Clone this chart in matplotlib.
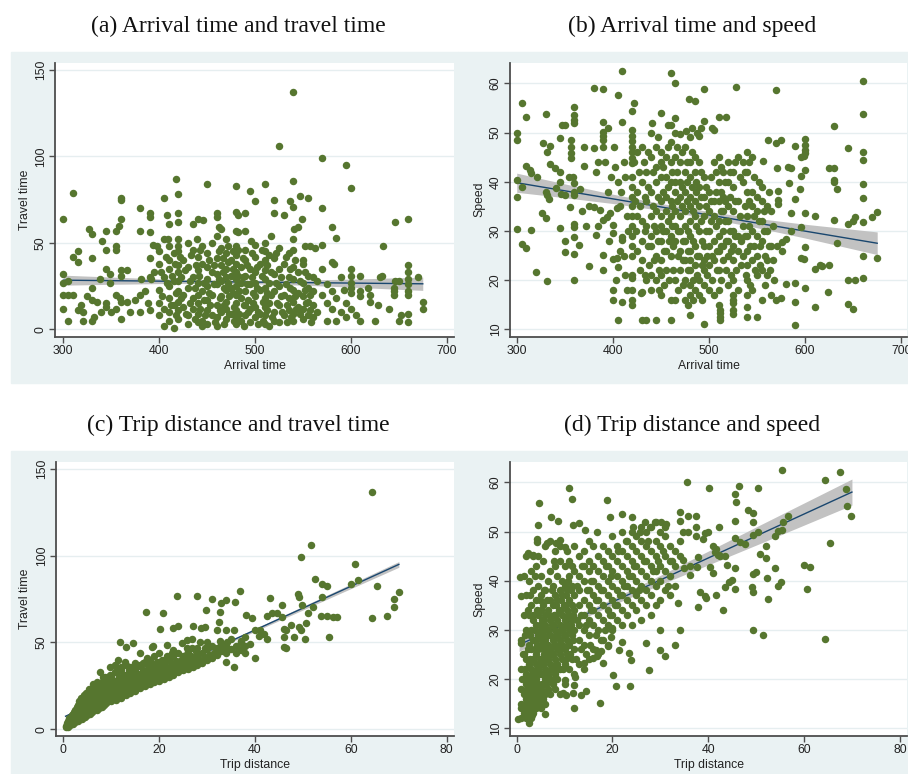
import matplotlib.pyplot as plt
import numpy as np
from matplotlib.patches import Rectangle

plt.rcParams['font.family'] = ['Liberation Sans', 'DejaVu Sans']

GREEN = "#56762f"
NAVY = "#1a476f"
BAND = "#c2c2c2"
BG = "#eaf2f3"
GRID = "#e6eef0"
AXC = "#4d4d4d"

# (a) arrival time vs travel time
pts_a = [
    (300, 64), (300, 32), (300, 27), (300, 20), (300, 12), (305, 28), (305, 20), (305, 5),
    (310, 79), (310, 42), (310, 20), (315, 45), (315, 39), (315, 11), (318, 14), (320, 5),
    (320, 10), (325, 19), (327, 58), (330, 55), (330, 41), (330, 24), (330, 17), (330, 5),
    (332, 7), (335, 16), (338, 29), (339, 10), (340, 51), (344, 35), (344, 15), (344, 13),
    (345, 57), (345, 46), (349, 32), (349, 27), (350, 10), (355, 57), (355, 48), (355, 46),
    (355, 20), (355, 12), (358, 60), (359, 18), (360, 76), (360, 75), (360, 64), (360, 34),
    (360, 31), (360, 16), (360, 6), (366, 34), (366, 16), (370, 10), (375, 17), (380, 70),
    (380, 57), (380, 20), (380, 10), (385, 22), (388, 15), (390, 67), (390, 65), (390, 56),
    (390, 41), (390, 30), (390, 11), (394, 49), (395, 33), (398, 48), (381, 29), (391, 29),
    (405, 76), (408, 66), (405, 52), (409, 52), (418, 87), (420, 78), (420, 67), (420, 62),
    (410, 61), (435, 61), (440, 64), (446, 63), (439, 52), (450, 84), (460, 67), (460, 65),
    (464, 58), (462, 59), (480, 83), (480, 68), (482, 66), (480, 57), (482, 56), (490, 67),
    (490, 57), (495, 80), (500, 74), (496, 51), (510, 84), (520, 75), (520, 67), (530, 66),
    (517, 54), (525, 106), (540, 137), (540, 86), (536, 74), (540, 71), (547, 77), (555, 76),
    (541, 58), (545, 59), (549, 64), (552, 48), (557, 48), (550, 40),
    (400, 45), (400, 38), (400, 23), (400, 15), (400, 8), (405, 30), (405, 12), (405, 2),
    (410, 48), (410, 40), (410, 35), (410, 25), (410, 18), (410, 10), (410, 5),
    (415, 44), (415, 28), (415, 14), (415, 1),
    (420, 52), (420, 48), (420, 45), (420, 37), (420, 33), (420, 28), (420, 22), (420, 16),
    (420, 11), (420, 6), (425, 40), (425, 20), (425, 13),
    (430, 50), (430, 36), (430, 24), (430, 8), (430, 3), (435, 46), (435, 30), (435, 18), (435, 12),
    (440, 42), (440, 34), (440, 27), (440, 20), (440, 15), (440, 9), (440, 4),
    (445, 48), (445, 38), (445, 22), (445, 5), (445, 2),
    (450, 44), (450, 36), (450, 29), (450, 25), (450, 17), (450, 11), (450, 3),
    (455, 50), (455, 33), (455, 20), (455, 8),
    (460, 54), (460, 41), (460, 32), (460, 26), (460, 14), (460, 7), (460, 2),
    (465, 47), (465, 37), (465, 28), (465, 19), (465, 10),
    (470, 52), (470, 44), (470, 35), (470, 30), (470, 23), (470, 16), (470, 12), (470, 6),
    (475, 40), (475, 31), (475, 24), (475, 9),
    (480, 48), (480, 43), (480, 38), (480, 33), (480, 29), (480, 25), (480, 20), (480, 15),
    (480, 11), (480, 7), (480, 3), (485, 36), (485, 27), (485, 18), (485, 5),
    (490, 46), (490, 40), (490, 31), (490, 22), (490, 14), (490, 8),
    (495, 35), (495, 26), (495, 12), (495, 4),
    (500, 49), (500, 42), (500, 33), (500, 27), (500, 19), (500, 13), (500, 7),
    (505, 38), (505, 23), (505, 9),
    (510, 50), (510, 45), (510, 40), (510, 34), (510, 29), (510, 24), (510, 18), (510, 13),
    (510, 8), (510, 3), (515, 43), (515, 27), (515, 15), (515, 2),
    (520, 41), (520, 32), (520, 22), (520, 10), (520, 5),
    (525, 47), (525, 35), (525, 25), (525, 14), (525, 4), (530, 38), (530, 20), (530, 8),
    (535, 44), (535, 30), (535, 18), (535, 11),
    (540, 52), (540, 46), (540, 36), (540, 29), (540, 23), (540, 16), (540, 9), (540, 5),
    (545, 33), (545, 21), (545, 13), (550, 38), (550, 27), (550, 19), (550, 12), (550, 6),
    (555, 31), (555, 24), (555, 16), (555, 8), (560, 30), (560, 22), (560, 14), (560, 7),
    (563, 47), (570, 99), (570, 70), (570, 49), (580, 59), (585, 53), (580, 39), (582, 38),
    (595, 95), (600, 82), (600, 35), (600, 31), (600, 27), (610, 31), (630, 30), (632, 31),
    (633, 48), (646, 62), (660, 64), (660, 37), (660, 33), (660, 29), (660, 26), (670, 30),
    (650, 28), (646, 28), (645, 24), (645, 22), (660, 22), (645, 20), (660, 20), (650, 5),
    (652, 8), (660, 9), (660, 4), (675, 16), (675, 12), (610, 22), (618, 24), (620, 20),
    (610, 19), (600, 21), (600, 24), (593, 23), (570, 20), (575, 15), (580, 12), (585, 5),
    (590, 10), (595, 15), (600, 12), (605, 8), (610, 5), (620, 16), (625, 5), (628, 14),
    (640, 12), (570, 35), (575, 26), (565, 28), (585, 18), (590, 30), (575, 5), (565, 10),
    (580, 22), (595, 7),
]
# the dense middle of panel (a)
pts_a_dense = [
    (402, 33), (403, 19), (407, 42), (408, 27), (412, 14), (413, 31), (417, 38), (418, 21),
    (418, 8), (422, 42), (423, 30), (423, 18), (427, 34), (428, 9), (432, 28), (432, 15),
    (433, 43), (437, 24), (437, 6), (438, 37), (442, 31), (443, 12), (443, 46), (447, 27),
    (447, 17), (448, 8), (452, 40), (452, 21), (453, 14), (457, 37), (457, 26), (458, 4),
    (462, 45), (462, 29), (463, 18), (463, 11), (467, 41), (467, 33), (468, 24), (468, 14),
    (468, 3), (472, 48), (472, 39), (472, 27), (473, 19), (473, 9), (477, 45), (477, 35),
    (477, 21), (478, 13), (478, 5), (482, 46), (482, 31), (483, 22), (483, 9), (487, 41),
    (487, 30), (488, 14), (488, 2), (492, 37), (492, 26), (493, 17), (493, 10), (497, 44),
    (497, 30), (498, 21), (498, 15), (502, 36), (502, 24), (503, 10), (503, 3), (507, 46),
    (507, 31), (508, 16), (508, 5), (512, 37), (512, 21), (513, 11), (517, 33), (517, 20),
    (518, 7), (522, 44), (522, 27), (523, 15), (527, 30), (527, 19), (528, 10), (532, 42),
    (532, 26), (533, 14), (533, 4), (537, 35), (537, 24), (538, 7), (542, 40), (542, 19),
    (543, 12), (547, 28), (547, 9), (552, 33), (552, 23), (553, 15), (557, 20), (557, 11),
    (558, 4),
]

# (b) arrival time vs speed
pts_b = [
    (410, 62.6), (460, 62.2), (465, 60.1), (660, 60.5), (380, 59), (390, 58.8), (495, 58.8),
    (528, 59.3), (570, 58.6), (405, 57.6), (479, 56.8), (485, 56.5), (305, 56), (422, 56),
    (360, 55.1), (420, 54.4), (330, 53.8), (310, 53.2), (360, 53.6), (360, 52.5), (360, 51.9),
    (450, 53.9), (465, 52.9), (510, 53.2), (518, 53.1), (660, 53.7), (410, 52.1), (390, 52.1),
    (347, 51.6), (350, 51.6), (441, 51.9), (457, 51.5), (460, 51.5), (495, 52.4), (630, 51.3),
    (300, 50), (300, 48.5), (395, 51), (390, 50.2), (390, 49.2), (390, 48.5), (390, 47.1),
    (420, 50.5), (420, 49.4), (420, 48.2), (420, 47), (420, 46), (420, 44.8), (420, 43.8),
    (470, 49.8), (476, 50.4), (482, 50.9), (488, 50), (490, 49.2), (492, 51), (503, 51),
    (505, 50.5), (345, 48.8), (327, 47.8), (331, 46.1), (335, 47.3), (370, 47.1), (380, 46.8),
    (401, 47.1), (356, 48.5), (356, 47.1), (356, 45.8), (356, 44.8), (561, 48.5), (570, 47.8),
    (575, 48.5), (590, 47.3), (600, 48.6), (600, 47.5), (600, 46.5), (600, 45.8), (645, 46.8),
    (660, 46.1), (660, 44.4), (556, 44.2), (596, 45), (599, 45.3), (596, 41.2), (600, 42.3),
    (630, 42.7), (625, 42.7), (630, 40.4), (630, 40), (633, 38.5), (660, 39.5), (660, 36.7),
    (571, 42.7), (582, 43), (585, 42.7), (572, 38.2), (572, 36.3), (572, 35.5), (583, 39.7),
    (595, 38.5), (590, 36.5), (310, 43.3), (314, 42.4), (315, 41.7), (321, 41), (300, 40.4),
    (305, 39), (300, 36.8), (330, 38), (332, 37.3), (334, 36.5), (335, 43.7), (340, 42.7),
    (345, 42), (345, 40), (341, 38.7), (346, 37.6), (350, 37.3), (354, 41), (359, 41),
    (360, 39.7), (360, 38), (360, 37.3), (366, 38.5), (370, 43.2), (326, 33.7), (330, 32.6),
    (345, 30.5), (300, 30.3), (315, 30.2), (305, 27.3), (310, 26.5), (355, 34.8), (350, 28),
    (350, 25.8), (360, 31.4), (360, 30.9), (360, 28.7), (360, 25.3), (365, 27.1), (320, 21.7),
    (332, 19.9), (360, 20), (375, 22.9), (390, 22.1), (382, 29.2), (390, 25.1), (380, 34.9),
    (387, 34.3), (390, 32.2), (394, 32.9), (397, 33.6), (400, 31.2), (400, 29.5), (404, 34.6),
    (407, 35), (410, 28.8), (410, 28.2), (400, 24.2), (404, 24.6), (405, 22.6), (400, 18),
    (400, 16), (410, 15.6), (405, 11.9), (415, 18), (420, 18), (420, 16), (420, 14.9),
    (420, 21), (420, 20.4), (430, 11.9), (435, 11.9), (445, 11.9), (429, 17.3), (430, 17.6),
    (460, 11.9), (495, 11), (590, 10.9), (540, 12.6), (550, 12.6), (511, 11.9), (511, 12.6),
    (511, 13.3), (511, 14), (525, 13.2), (525, 14), (525, 15.3), (525, 16), (525, 17),
    (540, 14.5), (610, 14.5), (645, 15.2), (650, 14.1), (590, 15.6), (570, 16), (575, 16.3),
    (580, 19.2), (590, 19.5), (600, 18.5), (610, 22.2), (615, 23), (618, 22.8), (625, 23.1),
    (624, 17.6), (645, 20), (652, 20), (660, 20.4), (660, 24.9), (675, 24.4), (633, 27.6),
    (630, 32.2), (645, 31.5), (650, 32), (652, 32.9), (660, 31.9), (670, 32.9), (675, 33.8),
    (596, 30.9), (600, 33.7), (600, 26.7), (610, 33), (585, 30), (571, 27), (576, 27.8),
    (580, 28.3), (576, 26), (596, 24.4), (599, 24.2), (585, 33.6), (420, 41), (420, 39),
    (420, 37), (420, 35), (420, 33), (420, 31), (420, 29), (420, 27), (420, 25),
    (425, 46), (425, 38), (425, 33), (425, 26), (430, 47), (430, 40), (430, 32), (430, 28),
    (430, 24), (435, 42), (435, 36), (435, 31), (435, 20),
    (440, 50), (440, 45), (440, 38), (440, 33), (440, 29), (440, 27), (440, 21), (440, 18),
    (445, 47), (445, 43), (445, 40), (445, 34), (445, 30), (445, 25), (445, 20),
    (450, 46), (450, 44), (450, 41), (450, 36), (450, 33), (450, 31), (450, 28), (450, 24),
    (450, 21), (450, 17), (455, 45), (455, 41), (455, 37), (455, 34), (455, 30), (455, 26),
    (455, 22), (460, 48), (460, 44), (460, 40), (460, 36), (460, 33), (460, 29), (460, 25),
    (460, 16), (465, 50), (465, 45), (465, 40), (465, 38), (465, 34), (465, 31), (465, 28),
    (465, 20), (465, 16), (470, 44), (470, 40), (470, 37), (470, 33), (470, 30), (470, 26),
    (470, 22), (475, 47), (475, 42), (475, 38), (475, 34), (475, 31), (475, 28), (475, 24),
    (475, 20), (475, 16), (480, 49), (480, 44), (480, 41), (480, 37), (480, 35), (480, 32),
    (480, 29), (480, 26), (480, 24), (480, 22), (480, 19), (480, 17), (480, 13),
    (485, 45), (485, 42), (485, 36), (485, 33), (485, 27), (485, 23), (485, 18),
    (490, 44), (490, 39), (490, 35), (490, 30), (490, 25), (490, 20), (490, 17),
    (495, 41), (495, 37), (495, 33), (495, 27), (495, 24), (495, 22), (495, 19),
    (500, 38), (500, 34), (500, 30), (500, 27), (500, 23), (500, 18),
    (505, 44), (505, 36), (505, 33), (505, 28), (505, 24), (505, 17),
    (510, 45), (510, 40), (510, 36), (510, 32), (510, 29), (510, 26), (510, 22), (510, 18),
    (510, 15), (515, 42), (515, 37), (515, 34), (515, 30), (515, 27), (515, 24),
    (520, 44), (520, 40), (520, 35), (520, 32), (520, 28), (520, 25), (520, 19),
    (525, 42), (525, 39), (525, 34), (525, 30), (525, 27), (525, 24), (525, 20),
    (530, 45), (530, 36), (530, 29), (530, 26), (530, 18), (535, 44), (535, 40), (535, 31),
    (535, 25), (540, 46), (540, 42), (540, 38), (540, 33), (540, 29), (540, 26), (540, 23),
    (540, 20), (540, 17), (545, 45), (545, 38), (545, 35), (545, 30), (545, 24), (545, 18),
    (550, 37), (550, 34), (550, 29), (550, 25), (550, 21), (555, 39), (555, 36), (555, 32),
    (555, 28), (555, 22), (555, 16), (560, 35), (560, 30), (560, 24), (560, 21),
    (565, 34), (565, 27), (565, 17),
]
# the dense middle of panel (b)
pts_b_dense = [
    (422, 44), (423, 36), (424, 30), (427, 42), (428, 35), (428, 22), (432, 44), (433, 37),
    (433, 30), (433, 21), (437, 46), (437, 39), (437, 27), (438, 23), (442, 42), (442, 35),
    (443, 31), (443, 24), (447, 49), (447, 37), (447, 28), (448, 22), (448, 18), (452, 43),
    (452, 38), (452, 30), (453, 26), (453, 19), (457, 47), (457, 39), (457, 32), (458, 28),
    (458, 20), (462, 42), (462, 35), (462, 31), (463, 27), (463, 22), (467, 47), (467, 42),
    (467, 36), (468, 30), (468, 25), (468, 18), (472, 46), (472, 39), (472, 35), (473, 28),
    (473, 24), (473, 19), (477, 44), (477, 40), (477, 36), (478, 30), (478, 26), (478, 22),
    (478, 15), (482, 46), (482, 39), (483, 34), (483, 28), (483, 20), (483, 16), (487, 40),
    (487, 38), (487, 31), (488, 25), (488, 21), (492, 42), (492, 37), (492, 32), (493, 28),
    (493, 23), (493, 16), (497, 39), (497, 35), (497, 30), (498, 25), (498, 21), (502, 41),
    (502, 36), (502, 32), (503, 25), (503, 20), (507, 42), (507, 38), (507, 31), (508, 26),
    (508, 22), (512, 43), (512, 38), (512, 34), (513, 27), (513, 20), (517, 40), (517, 36),
    (517, 32), (518, 28), (518, 22), (522, 42), (522, 37), (522, 30), (523, 26), (523, 21),
    (527, 44), (527, 36), (527, 29), (528, 22), (532, 41), (532, 33), (533, 28), (533, 23),
    (537, 42), (537, 35), (537, 29), (538, 21), (542, 44), (542, 36), (542, 31), (543, 27),
    (543, 19), (547, 41), (547, 33), (547, 27), (548, 22), (552, 40), (552, 32), (553, 27),
    (553, 23), (557, 34), (557, 30), (558, 25), (558, 19), (562, 38), (562, 27), (563, 22),
    (567, 31), (567, 24), (568, 20), (382, 42), (385, 44), (392, 44), (395, 38), (398, 41),
    (402, 43), (405, 40), (408, 38), (412, 44), (413, 41), (415, 33), (416, 30), (412, 25),
    (407, 26), (403, 20), (413, 21), (396, 28), (385, 31), (375, 35), (372, 31), (368, 34),
]

# (c) trip distance vs travel time
pts_c = [
    (64.5, 137), (51.7, 106), (49.5, 99.4), (60.9, 95.1), (61.4, 86), (52.5, 86.7),
    (54, 83.6), (55, 82.8), (60, 83.6), (65.4, 82.6), (70, 79), (69, 75), (68.9, 70.3),
    (67.6, 65.3), (64.5, 64), (55.4, 53.3), (53.7, 65.5), (55, 65), (56.2, 64.5), (57.2, 64.5),
    (54, 76), (49, 78), (49.2, 76), (49.9, 71.6), (52, 70.7), (51, 67.2), (50.6, 61),
    (50.4, 51.8), (48.1, 53.3), (49.2, 59), (49.5, 57), (45.7, 71.6), (43.1, 75.9),
    (43.6, 67), (44.6, 67), (42.5, 65.3), (45.7, 64.5), (46, 58), (46.4, 57), (46, 53),
    (46, 47.6), (46.4, 47), (47.6, 60), (40.1, 41.2), (40.8, 53.5), (41.8, 55), (42.5, 51.8),
    (40, 57.2), (41, 57.2), (38.2, 66), (39.3, 64), (36.8, 79.9), (35.9, 73.6), (33, 73),
    (34, 74.5), (31, 75.1), (28, 77), (23.8, 77), (29.8, 68.7), (32.6, 67.4), (20.9, 66.8),
    (17.2, 67.8), (20.2, 57.6), (23, 58.5), (24, 59.5), (27, 59.5), (28.7, 58.2), (29.6, 59),
    (32.4, 62), (32, 57.2), (34, 57.2), (35.6, 57.2), (35.6, 36), (34, 38.9), (37, 45.6),
    (38, 43.7), (37, 51), (38, 53), (11.9, 50.5), (14.5, 49.5), (13.2, 47.6), (18.5, 47.6),
    (18.8, 48), (21.6, 48.5), (23, 45.6), (24.8, 49.5), (25.8, 46.6), (26.8, 46.6),
    (25.8, 51.4), (26.8, 51.8), (28.6, 50), (30, 50.5), (32.8, 51), (34.2, 50), (11.5, 40),
    (12, 36), (16, 43.7), (17.4, 40.8), (9.8, 36), (10.8, 37), (7.7, 33), (8.4, 30),
    (0.5, 2), (0.5, 1), (1, 3), (1, 1.5), (1, 5), (1.5, 4), (1.5, 2.5), (1.5, 6),
    (2, 5), (2, 3), (2, 7), (2, 9), (2.5, 4), (2.5, 6), (2.5, 8), (2.5, 11),
    (3, 5), (3, 7), (3, 9), (3, 12), (3, 14), (3.5, 6), (3.5, 8), (3.5, 10), (3.5, 13), (3.5, 15),
    (4, 6), (4, 8), (4, 11), (4, 14), (4, 17), (4.5, 7), (4.5, 9), (4.5, 12), (4.5, 15), (4.5, 18),
    (5, 8), (5, 10), (5, 13), (5, 16), (5, 20), (5.5, 9), (5.5, 11), (5.5, 14), (5.5, 17), (5.5, 19),
    (6, 10), (6, 12), (6, 15), (6, 18), (6, 22), (6.5, 11), (6.5, 13), (6.5, 16), (6.5, 20), (6.5, 24),
    (7, 11), (7, 14), (7, 17), (7, 21), (7, 27), (7.5, 12), (7.5, 15), (7.5, 18), (7.5, 22),
    (8, 13), (8, 16), (8, 19), (8, 23), (8, 26), (8.5, 14), (8.5, 17), (8.5, 20), (8.5, 25),
    (9, 15), (9, 18), (9, 21), (9, 24), (9, 28), (10, 16), (10, 19), (10, 22), (10, 26), (10, 30),
    (11, 17), (11, 20), (11, 24), (11, 28), (11, 33), (12, 18), (12, 22), (12, 25), (12, 29), (12, 34),
    (13, 20), (13, 23), (13, 27), (13, 31), (13, 37), (14, 21), (14, 25), (14, 28), (14, 33), (14, 36),
    (15, 22), (15, 26), (15, 30), (15, 35), (15, 38), (16, 24), (16, 28), (16, 32), (16, 37),
    (17, 25), (17, 29), (17, 33), (17, 39), (18, 26), (18, 30), (18, 35), (18, 40),
    (19, 27), (19, 31), (19, 36), (19, 42), (20, 28), (20, 32), (20, 37), (20, 44),
    (21, 29), (21, 33), (21, 38), (22, 30), (22, 34), (22, 40), (23, 31), (23, 36), (23, 42),
    (24, 33), (24, 37), (24, 44), (25, 34), (25, 38), (25, 42), (26, 35), (26, 40), (26, 45),
    (27, 36), (27, 41), (28, 37), (28, 43), (28, 47), (29, 38), (29, 44), (30, 40), (30, 46),
    (31, 41), (31, 48), (32, 43), (32, 47), (33, 45), (33, 49), (34, 44), (34, 48),
    (35, 46), (35, 52), (36, 48), (37, 50), (37, 46),
]
# the dense blob of panel (c)
pts_c_dense = [
    (0.8, 3.5), (1.2, 2.2), (1.3, 6.5), (1.8, 4.5), (1.8, 8), (2.2, 6), (2.3, 10), (2.7, 5.5),
    (2.8, 9.5), (2.8, 13), (3.2, 8), (3.3, 11), (3.3, 16), (3.7, 7), (3.8, 12), (3.8, 18),
    (4.2, 9.5), (4.3, 13), (4.3, 20), (4.7, 10.5), (4.8, 14), (4.8, 21), (5.2, 11.5),
    (5.3, 15), (5.3, 23), (5.7, 12.5), (5.8, 16), (5.8, 21), (6.2, 13.5), (6.3, 17),
    (6.3, 26), (6.7, 14.5), (6.8, 18.5), (6.8, 22), (7.2, 15.5), (7.3, 19.5), (7.3, 24),
    (7.7, 13.5), (7.8, 17), (7.8, 25), (8.2, 14.5), (8.3, 21), (8.3, 28), (8.7, 18.5),
    (8.8, 22.5), (8.8, 30), (9.3, 16.5), (9.4, 19.5), (9.5, 23), (9.6, 26), (9.7, 31),
    (10.3, 17.5), (10.4, 21), (10.5, 24), (10.6, 28), (10.7, 33), (11.3, 19), (11.4, 22),
    (11.5, 26), (11.6, 30), (11.7, 35), (12.3, 20), (12.5, 24), (12.6, 27), (12.7, 31),
    (12.8, 39), (13.3, 21.5), (13.5, 25), (13.6, 29), (13.7, 33), (13.8, 35), (14.3, 23),
    (14.5, 26.5), (14.6, 30.5), (14.7, 34.5), (15.3, 24), (15.5, 28), (15.6, 32),
    (15.7, 36.5), (16.3, 25.5), (16.5, 29.5), (16.6, 34), (16.7, 38), (17.3, 27), (17.5, 31),
    (17.6, 35), (17.7, 37), (18.3, 28), (18.5, 32.5), (18.6, 37.5), (19.3, 29), (19.5, 33.5),
    (19.6, 39), (20.3, 30), (20.5, 35), (20.6, 40), (21.5, 31), (21.6, 36), (21.7, 42),
    (22.5, 32), (22.6, 37.5), (22.7, 44), (23.5, 33.5), (23.6, 39.5), (24.5, 35), (24.6, 40),
    (25.5, 36.5), (25.6, 43), (26.5, 37.5), (26.6, 42), (27.5, 39), (27.6, 45), (28.5, 40),
    (29.5, 41), (29.6, 47), (30.5, 43), (31.5, 44), (32.5, 45), (33.5, 47), (34.5, 46),
    (36, 44), (39, 49), (38, 48),
]

# (d) trip distance vs speed
pts_d = [
    (55.3, 62.6), (67.6, 62.2), (64.3, 60.5), (68.7, 58.6), (69, 55.2), (69.9, 53.2),
    (65.4, 47.6), (64.3, 28.2), (60, 43.1), (61.2, 42.7), (60.7, 38.3), (50.4, 58.8),
    (46.4, 59.3), (45.6, 57.6), (45.7, 56.1), (48.3, 54.4), (49.4, 53.8), (45.6, 52.2),
    (49.3, 52), (56.7, 53.2), (55.7, 52), (55.3, 50.4), (54.6, 50.2), (53.9, 49),
    (50.4, 49.8), (49.3, 49.3), (52, 47.1), (50.8, 45.4), (52, 44.6), (42.3, 51),
    (35.6, 60), (40.2, 58.9), (37.4, 53.2), (35.8, 53.2), (34.1, 53.9), (34, 52.2),
    (34.8, 50), (35.8, 50), (37.4, 51), (37.4, 49), (39.3, 49.6), (40, 50), (39, 48.5),
    (41, 47), (41.7, 46.4), (42, 45.2), (43.5, 45), (42.4, 45.1), (45.6, 48.6), (46.6, 47.9),
    (47.7, 47.4), (45.6, 42.5), (44, 43.2), (49.4, 41.4), (50, 41.8), (49.1, 38.7),
    (49.3, 37.6), (54.6, 39), (55.2, 39.8), (53.9, 42.5), (52.2, 40.6), (52.4, 36.3),
    (44.4, 39.8), (44.9, 40.1), (43.5, 38.8), (45.6, 38.3), (43, 34), (41.7, 37.1),
    (39.3, 36.9), (39.5, 36.4), (38.3, 37.6), (37.9, 34.7), (37.7, 42.7), (37.9, 44.8),
    (40.3, 42.8), (41, 41.5), (41.4, 45.9), (42.3, 45.2), (36.2, 41.2), (36.2, 42.9),
    (34.8, 44.2), (35, 42.5), (33.7, 35.4), (34, 30), (33.1, 26.9), (29.9, 30), (29.9, 25.9),
    (31, 24.7), (27.7, 21.9), (27, 27.4), (49.4, 30), (51.5, 29), (23.7, 18.5), (20.7, 18.6),
    (20.2, 20.8), (21.4, 25.9), (22, 27.6), (23.5, 25.2), (23.9, 23.9), (18.8, 56.5),
    (21.9, 53.6), (24, 52.9), (19.5, 52.9), (11.5, 56.7), (10.9, 58.9), (4.7, 55.9),
    (7.2, 53), (8.7, 52.2), (4.4, 51.3), (11.8, 51.3), (13.1, 51.7), (14.3, 50.4),
    (16.7, 50), (4.2, 48.4), (4.2, 47.9), (6.3, 47.6), (8.2, 47.7), (9, 48.3), (10.1, 46.9),
    (0.7, 40.8), (2.3, 45.6), (3.4, 45.2), (4.5, 45), (1, 36.9), (0.8, 27.3), (0.3, 11.8),
    (2.6, 11), (3.1, 12.7), (6, 12.9), (12, 14.1), (17.3, 15.1), (13.4, 16.8), (14.5, 17.5),
    (11.8, 17.2), (12, 18.8), (9.7, 17.1), (10.3, 16.8), (10.1, 19.8), (12.2, 20.5),
    (14.1, 23.2), (16, 24.2), (16.7, 24.6), (18.1, 23.2), (17.7, 25.6), (19.1, 26.7),
    (19.7, 28.5), (19.9, 30.3), (16.5, 25.9),
    (1, 12), (1, 15), (1, 18), (1, 22), (1, 28), (1.5, 13), (1.5, 17), (1.5, 20), (1.5, 25),
    (1.5, 33), (1.5, 41), (2, 12), (2, 14), (2, 16), (2, 19), (2, 21), (2, 24), (2, 30),
    (2, 37), (2, 45), (2.5, 13), (2.5, 15), (2.5, 17), (2.5, 20), (2.5, 23), (2.5, 27),
    (2.5, 33), (2.5, 40), (3, 12), (3, 14), (3, 16), (3, 18), (3, 20), (3, 22), (3, 26),
    (3, 30), (3, 35), (3, 42), (3.5, 13), (3.5, 15), (3.5, 17), (3.5, 19), (3.5, 21),
    (3.5, 24), (3.5, 28), (3.5, 32), (3.5, 38), (3.5, 45), (4, 14), (4, 16), (4, 18),
    (4, 20), (4, 23), (4, 25), (4, 28), (4, 31), (4, 36), (4, 43), (4.5, 15), (4.5, 17),
    (4.5, 19), (4.5, 22), (4.5, 26), (4.5, 29), (4.5, 33), (4.5, 39), (5, 14), (5, 16),
    (5, 18), (5, 21), (5, 24), (5, 27), (5, 30), (5, 34), (5, 37), (5, 41), (5.5, 16),
    (5.5, 19), (5.5, 23), (5.5, 26), (5.5, 29), (5.5, 32), (5.5, 35), (5.5, 44), (6, 15),
    (6, 17), (6, 20), (6, 22), (6, 25), (6, 28), (6, 31), (6, 33), (6, 38), (6, 47),
    (6.5, 18), (6.5, 21), (6.5, 24), (6.5, 27), (6.5, 30), (6.5, 34), (6.5, 40), (7, 17),
    (7, 20), (7, 23), (7, 26), (7, 29), (7, 32), (7, 36), (7, 42), (7, 48), (7.5, 19),
    (7.5, 22), (7.5, 25), (7.5, 28), (7.5, 31), (7.5, 35), (7.5, 39), (8, 18), (8, 21),
    (8, 24), (8, 27), (8, 30), (8, 33), (8, 37), (8, 43), (8, 46), (8.5, 20), (8.5, 23),
    (8.5, 26), (8.5, 29), (8.5, 32), (8.5, 36), (8.5, 41), (9, 17), (9, 22), (9, 25),
    (9, 28), (9, 31), (9, 34), (9, 38), (9, 44), (9, 47), (9.5, 24), (9.5, 27), (9.5, 30),
    (9.5, 33), (9.5, 37), (9.5, 40), (10, 19), (10, 23), (10, 26), (10, 29), (10, 32),
    (10, 35), (10, 39), (10, 43), (10.5, 25), (10.5, 28), (10.5, 31), (10.5, 34), (10.5, 38),
    (10.5, 46), (11, 22), (11, 27), (11, 30), (11, 33), (11, 36), (11, 41), (11, 44),
    (11.5, 24), (11.5, 29), (11.5, 32), (11.5, 35), (11.5, 39), (11.5, 43), (12, 21),
    (12, 26), (12, 30), (12, 34), (12, 37), (12, 42), (12, 47), (13, 23), (13, 28), (13, 31),
    (13, 35), (13, 38), (13, 41), (13, 45), (14, 22), (14, 27), (14, 30), (14, 33), (14, 36),
    (14, 40), (14, 43), (14, 46), (15, 24), (15, 29), (15, 32), (15, 35), (15, 38), (15, 42),
    (15, 44), (15, 48), (16, 26), (16, 31), (16, 34), (16, 37), (16, 40), (16, 43), (16, 47),
    (17, 25), (17, 30), (17, 33), (17, 36), (17, 39), (17, 42), (17, 45), (18, 28), (18, 32),
    (18, 35), (18, 38), (18, 41), (18, 44), (18, 47), (19, 27), (19, 31), (19, 34), (19, 37),
    (19, 40), (19, 43), (19, 46), (20, 30), (20, 33), (20, 36), (20, 39), (20, 42), (20, 45),
    (20, 49), (21, 32), (21, 35), (21, 38), (21, 41), (21, 44), (21, 47), (22, 31), (22, 34),
    (22, 37), (22, 40), (22, 43), (22, 46), (22, 50), (23, 33), (23, 36), (23, 39), (23, 42),
    (23, 45), (23, 48), (24, 31), (24, 35), (24, 38), (24, 41), (24, 44), (24, 47), (24, 50),
    (25, 34), (25, 37), (25, 40), (25, 43), (25, 46), (25, 49), (26, 32), (26, 36), (26, 39),
    (26, 42), (26, 45), (26, 48), (26, 51), (27, 35), (27, 38), (27, 41), (27, 44), (27, 47),
    (27, 50), (28, 33), (28, 37), (28, 40), (28, 43), (28, 46), (28, 51), (29, 35), (29, 39),
    (29, 42), (29, 45), (29, 48), (29, 52), (30, 36), (30, 40), (30, 43), (30, 47), (30, 50),
    (31, 38), (31, 42), (31, 45), (31, 49), (31, 51), (32, 37), (32, 41), (32, 44), (32, 47),
    (33, 39), (33, 43), (33, 46), (34, 45), (34, 48),
]
# the dense left part of panel (d)
pts_d_dense = [
    (0.8, 14), (1.2, 20), (1.3, 25), (1.7, 15), (1.8, 22), (1.8, 29), (2.2, 13), (2.2, 18),
    (2.3, 26), (2.3, 34), (2.7, 14), (2.7, 19), (2.8, 24), (2.8, 29), (2.8, 37), (3.2, 15),
    (3.2, 21), (3.3, 24), (3.3, 33), (3.7, 16), (3.7, 20), (3.8, 26), (3.8, 30), (3.8, 41),
    (4.2, 17), (4.2, 22), (4.3, 27), (4.3, 34), (4.7, 16), (4.7, 21), (4.8, 24), (4.8, 31),
    (4.8, 36), (5.2, 19), (5.2, 23), (5.3, 28), (5.3, 32), (5.7, 17), (5.7, 21), (5.8, 25),
    (5.8, 30), (5.8, 38), (6.2, 19), (6.2, 24), (6.3, 27), (6.3, 36), (6.7, 20), (6.7, 26),
    (6.8, 29), (6.8, 33), (7.2, 22), (7.2, 25), (7.3, 31), (7.3, 38), (7.7, 20), (7.7, 27),
    (7.8, 33), (7.8, 44), (8.2, 23), (8.3, 29), (8.3, 35), (8.7, 22), (8.8, 27), (8.8, 34),
    (9.2, 26), (9.3, 30), (9.3, 36), (9.7, 22), (9.8, 29), (9.8, 35), (10.2, 24), (10.3, 31),
    (10.3, 37), (10.7, 27), (10.8, 33), (10.8, 40), (11.2, 25), (11.3, 31), (11.3, 38),
    (11.8, 28), (11.8, 33), (12.4, 24), (12.5, 32), (12.6, 39), (13.4, 26), (13.5, 33),
    (13.6, 43), (14.4, 25), (14.5, 31), (14.6, 38), (15.4, 27), (15.5, 34), (15.6, 40),
    (16.5, 29), (16.6, 36), (17.5, 28), (17.6, 38), (18.5, 30), (18.6, 43), (19.5, 33),
    (19.6, 41), (20.5, 35), (21.5, 37), (22.5, 39), (23.5, 41), (24.5, 43), (25.5, 38),
    (26.5, 44), (27.5, 48), (28.5, 42), (29.5, 44), (30.5, 46), (31.5, 39), (32.5, 44),
    (21.2, 46), (22.8, 48), (24.2, 51), (25.8, 50), (26.8, 52), (27.8, 51), (28.8, 52),
    (30.2, 52), (31.2, 51.5),
]

# fitted line and 95% band at a few x positions
band_a_x = [300, 350, 400, 450, 500, 550, 600, 650, 675]
line_a = [28.4, 28.12, 27.84, 27.56, 27.28, 27.0, 26.72, 26.44, 26.3]
lo_a = [25.5, 26.0, 26.4, 26.6, 26.3, 25.5, 24.4, 23.1, 22.5]
hi_a = [31.3, 30.2, 29.2, 28.6, 28.3, 28.5, 29.0, 29.8, 30.1]

band_b_x = [300, 350, 400, 450, 500, 550, 600, 650, 675]
line_b = [39.8, 38.16, 36.52, 34.88, 33.24, 31.6, 29.96, 28.32, 27.5]
lo_b = [37.85, 36.76, 35.57, 34.18, 32.54, 30.65, 28.56, 26.32, 25.2]
hi_b = [41.75, 39.56, 37.47, 35.58, 33.94, 32.55, 31.36, 30.32, 29.8]

band_c_x = [0.5, 10, 20, 30, 40, 50, 60, 70]
line_c = [7.5, 19.4, 32.0, 44.6, 57.2, 69.8, 82.4, 95.0]
lo_c = [6.9, 18.95, 31.55, 44.0, 56.4, 68.75, 81.05, 93.35]
hi_c = [8.1, 19.85, 32.45, 45.2, 58.0, 70.85, 83.75, 96.65]

band_d_x = [0.5, 5, 10, 15, 20, 30, 40, 50, 60, 70]
line_d = [26.95, 28.96, 31.2, 33.43, 35.67, 40.14, 44.61, 49.08, 53.55, 58.02]
lo_d = [25.6, 28.01, 30.5, 32.83, 35.02, 39.19, 43.21, 47.23, 51.3, 55.37]
hi_d = [28.3, 29.91, 31.9, 34.03, 36.32, 41.09, 46.01, 50.93, 55.8, 60.67]

titles = ["(a) Arrival time and travel time", "(b) Arrival time and speed",
          "(c) Trip distance and travel time", "(d) Trip distance and speed"]

W, H = 908, 774


def fig_box(l, t, r, b):
    return [l / W, 1 - b / H, (r - l) / W, (b - t) / H]


def draw_panel(ax, pts, bx, line, lo, hi, xlim, ylim, xticks, yticks, xlabel, ylabel):
    x, y = np.array(pts).T
    ax.set_facecolor("white")
    for v in yticks:
        ax.axhline(v, color=GRID, lw=1.0, zorder=0)
    # band and fit line sit under the markers
    ax.fill_between(bx, lo, hi, color=BAND, lw=0, zorder=1)
    ax.plot(bx, line, color=NAVY, lw=1.0, zorder=1.5)
    ax.scatter(x, y, s=29, color=GREEN, lw=0, zorder=2)
    ax.set_xlim(*xlim)
    ax.set_ylim(*ylim)
    ax.set_xticks(xticks)
    ax.set_yticks(yticks)
    for s in ["top", "right"]:
        ax.spines[s].set_visible(False)
    for s in ["left", "bottom"]:
        ax.spines[s].set_color(AXC)
        ax.spines[s].set_linewidth(1.3)
    ax.tick_params(direction="out", length=4, width=1, color=AXC,
                   labelsize=8.8, labelcolor="#222222", pad=2)
    plt.setp(ax.get_yticklabels(), rotation=90, va="center")
    ax.set_xlabel(xlabel, fontsize=8.8, color="#222222", labelpad=2)
    ax.set_ylabel(ylabel, fontsize=8.8, color="#222222", labelpad=3)


fig = plt.figure(figsize=(9.08, 7.74), dpi=100)

# light bluish graph regions, kept behind the axes
for (l, t, r, b) in [(11, 52, 458, 382.5), (458, 52, 908, 382.5),
                     (11, 450.7, 458, 774), (458, 450.7, 908, 774)]:
    bl, bb, bw, bh = fig_box(l, t, r, b)
    fig.patches.append(Rectangle((bl, bb), bw, bh, transform=fig.transFigure,
                                 color=BG, zorder=-10))

ax_a = fig.add_axes(fig_box(55, 62.7, 454, 336.7))
ax_b = fig.add_axes(fig_box(510, 62.7, 907, 336.7))
ax_c = fig.add_axes(fig_box(56, 461.7, 454, 736))
ax_d = fig.add_axes(fig_box(510, 461.7, 907, 736))

draw_panel(ax_a, pts_a + pts_a_dense, band_a_x, line_a, lo_a, hi_a,
           (291.3, 707.6), (-4.3, 154.2),
           [300, 400, 500, 600, 700], [0, 50, 100, 150], "Arrival time", "Travel time")
draw_panel(ax_b, pts_b + pts_b_dense, band_b_x, line_b, lo_b, hi_b,
           (293, 706), (8.5, 64.2),
           [300, 400, 500, 600, 700], [10, 20, 30, 40, 50, 60], "Arrival time", "Speed")
draw_panel(ax_c, pts_c + pts_c_dense, band_c_x, line_c, lo_c, hi_c,
           (-1.5, 81.5), (-3.9, 154.2),
           [0, 20, 40, 60, 80], [0, 50, 100, 150], "Trip distance", "Travel time")
draw_panel(ax_d, pts_d + pts_d_dense, band_d_x, line_d, lo_d, hi_d,
           (-1.4, 81.5), (8.4, 64.2),
           [0, 20, 40, 60, 80], [10, 20, 30, 40, 50, 60], "Trip distance", "Speed")

for (cx, cy), t in zip([(238, 26), (692, 26), (238, 425), (692, 425)], titles):
    fig.text(cx / W, 1 - cy / H, t, ha="center", va="center", fontsize=17,
             family=["Liberation Serif", "DejaVu Serif"], color="#111111")

fig.savefig("out.png", dpi=100, facecolor="white")
